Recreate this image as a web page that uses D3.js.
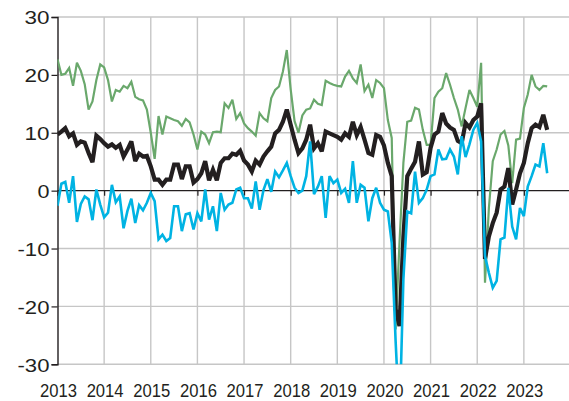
<!DOCTYPE html>
<html><head><meta charset="utf-8">
<script src="https://cdn.jsdelivr.net/npm/d3@7"></script>
<style>
html,body{margin:0;padding:0;background:#fff;}
svg{display:block;}
text{font-family:"Liberation Sans",Arial,sans-serif;fill:#231f20;}
</style></head>
<body>
<svg id="c" width="569" height="401"></svg>
<script>
// ---- data (monthly, Jan 2013 .. Jul 2023) ----
const startYear = 2013;
const green = [
22.7,20.0,20.2,21.2,18.1,22.1,20.7,18.4,14.0,15.4,19.1,21.8,
21.3,19.1,15.4,17.4,17.1,18.1,17.7,18.8,16.2,15.8,15.6,14.0,
10.0,5.5,12.9,9.7,12.8,12.5,12.2,12.0,11.2,12.4,11.8,9.7,
7.1,10.2,9.7,8.2,10.1,10.2,10.1,15.1,14.3,15.7,12.4,13.4,
11.6,10.8,10.2,9.5,13.4,12.5,12.0,16.0,17.4,18.0,20.6,24.3,
17.5,12.0,10.0,13.0,14.0,14.2,15.7,15.0,14.8,19.0,18.6,18.3,
18.1,18.0,19.7,20.7,19.4,18.6,21.8,17.2,18.3,16.0,19.1,18.6,
17.7,12.2,9.1,-24.0,-9.0,4.8,11.9,12.1,14.3,14.0,10.5,7.9,
7.9,16.0,17.1,17.7,20.3,18.3,16.0,14.0,11.1,14.3,17.4,16.0,
14.5,22.1,-15.9,-3.0,5.1,7.1,9.7,10.3,7.8,1.3,8.8,9.0,
14.3,16.6,20.0,18.0,17.4,18.1,18.0];
const black = [
9.7,10.2,10.8,9.4,9.9,7.9,8.5,8.3,6.5,4.9,9.5,8.9,
8.2,7.6,8.0,7.4,7.9,5.9,7.1,8.5,5.1,6.4,5.9,6.0,
4.2,1.9,1.9,1.0,1.9,1.9,4.5,4.5,2.0,4.2,4.2,1.4,
2.0,3.0,5.1,1.8,3.6,1.8,4.8,5.6,5.6,6.4,6.2,6.9,
5.2,4.5,3.3,5.2,4.5,5.9,6.8,7.6,9.9,10.5,11.9,14.0,
11.4,8.8,6.5,7.3,8.8,11.4,7.3,8.2,6.8,10.2,9.9,9.6,
9.3,8.8,9.9,9.3,11.9,9.6,11.0,8.8,6.5,6.2,9.6,9.3,
7.8,4.8,2.5,-20.5,-23.4,-8.0,2.5,3.8,5.0,8.5,2.8,3.2,
7.4,9.7,10.2,13.4,11.6,10.9,10.5,8.6,8.2,11.7,10.9,12.2,
12.8,15.1,-11.8,-7.9,-5.6,-3.8,0.2,0.7,3.9,-2.4,0.2,3.0,
4.8,8.2,10.8,11.4,11.0,13.1,10.5];
const cyan = [
-2.6,1.2,1.5,-2.1,2.5,-5.4,-2.3,-1.0,-1.5,-5.1,0.2,-2.4,
-4.6,-3.8,1.0,-2.0,-1.0,-6.5,-3.5,-1.4,-5.6,-2.5,-3.4,-2.1,
-0.4,-1.8,-8.4,-7.6,-8.7,-8.2,-2.7,-2.7,-7.0,-4.1,-3.9,-6.7,
-3.9,-5.3,0.2,-5.0,-2.7,-7.0,-0.4,-3.3,-2.4,-2.1,0.2,0.5,
-1.3,-1.3,-3.1,1.6,-3.3,0.1,2.0,-0.2,3.3,2.3,3.5,4.8,
2.5,0.5,-0.4,0.0,2.5,8.5,-0.6,0.7,2.5,-4.7,2.5,1.3,
1.9,-0.4,0.3,-2.1,5.1,-2.1,1.0,0.5,-5.3,-1.3,0.5,-2.1,
-3.3,-3.6,-9.0,-26.0,-40.0,-15.3,-3.6,-3.9,3.3,-2.1,-1.3,0.2,
2.5,2.8,7.1,5.4,5.5,7.1,5.9,2.8,9.4,5.8,8.0,10.5,
11.7,8.5,-11.3,-14.2,-16.8,-15.6,-8.4,-8.1,0.5,-6.2,-8.4,-3.0,
-4.4,0.7,2.5,4.5,4.2,8.2,3.0];
const yTicks = [-30,-20,-10,0,10,20,30];
const xTicks = [2013,2014,2015,2016,2017,2018,2019,2020,2021,2022,2023];

// ---- layout ----
const svg = d3.select("#c");
const L = 57.5, R = 570.5, T = 17, B = 364.3;
const x = d3.scaleLinear().domain([2013, 2024]).range([L, R]);
const y = d3.scaleLinear().domain([-30, 30]).range([B, T]);
const t = i => startYear + i / 12;

// horizontal gridlines
svg.append("g").selectAll("line").data(yTicks.filter(v => v !== 0)).join("line")
  .attr("x1", L).attr("x2", 569).attr("y1", d => y(d)).attr("y2", d => y(d))
  .attr("stroke", "#c6c6c6").attr("stroke-width", 1.4);
// vertical gridlines
svg.append("g").selectAll("line").data(xTicks.slice(1)).join("line")
  .attr("x1", d => x(d)).attr("x2", d => x(d)).attr("y1", T).attr("y2", B)
  .attr("stroke", "#c6c6c6").attr("stroke-width", 1.4);

// y axis
const yAxis = d3.axisLeft(y).tickValues(yTicks).tickSize(6).tickPadding(3).tickFormat(d => String(d));
const gy = svg.append("g").attr("transform", `translate(${L},0)`).call(yAxis);
gy.select(".domain").attr("stroke", "#231f20").attr("stroke-width", 1.4);
gy.selectAll(".tick line").attr("stroke", "#231f20").attr("stroke-width", 1.2);
gy.selectAll(".tick text").attr("font-size", 19).attr("fill", "#231f20")
  .attr("font-family", "'Liberation Sans',Arial,sans-serif")
  .attr("x", -8).attr("dy", "0.36em")
  .attr("textLength", d => { const s = String(Math.abs(d)); return s.length * 13 - 1 + (d < 0 ? 7 : 0); })
  .attr("lengthAdjust", "spacingAndGlyphs");

// zero line with year ticks
const xAxis = d3.axisBottom(x).tickValues(xTicks).tickSize(5).tickFormat("");
const gx = svg.append("g").attr("transform", `translate(0,${y(0)})`).call(xAxis);
gx.select(".domain").remove();
gx.selectAll(".tick line").attr("stroke", "#231f20").attr("stroke-width", 1.2);
svg.append("line").attr("x1", L).attr("x2", 569).attr("y1", y(0)).attr("y2", y(0))
  .attr("stroke", "#231f20").attr("stroke-width", 1.4);

// x labels
svg.append("g").selectAll("text").data(xTicks).join("text")
  .attr("x", d => x(d) + 1).attr("y", 396.5)
  .attr("text-anchor", "middle").attr("font-size", 19)
  .attr("textLength", 37).attr("lengthAdjust", "spacingAndGlyphs")
  .text(d => d);

// clip
svg.append("clipPath").attr("id", "clip").append("rect")
  .attr("x", L).attr("y", T - 5).attr("width", 569 - L).attr("height", B - T + 5);

const line = d3.line().x((d, i) => x(t(i))).y(d => y(d));
const series = [
  {v: green, c: "#6aa86c", w: 2.2},
  {v: black, c: "#231f20", w: 4.2},
  {v: cyan,  c: "#00b3e3", w: 2.6}
];
svg.append("g").attr("clip-path", "url(#clip)").selectAll("path").data(series).join("path")
  .attr("d", d => line(d.v)).attr("fill", "none")
  .attr("stroke", d => d.c).attr("stroke-width", d => d.w)
  .attr("stroke-linejoin", "miter").attr("stroke-miterlimit", 3);
</script>
</body></html>
